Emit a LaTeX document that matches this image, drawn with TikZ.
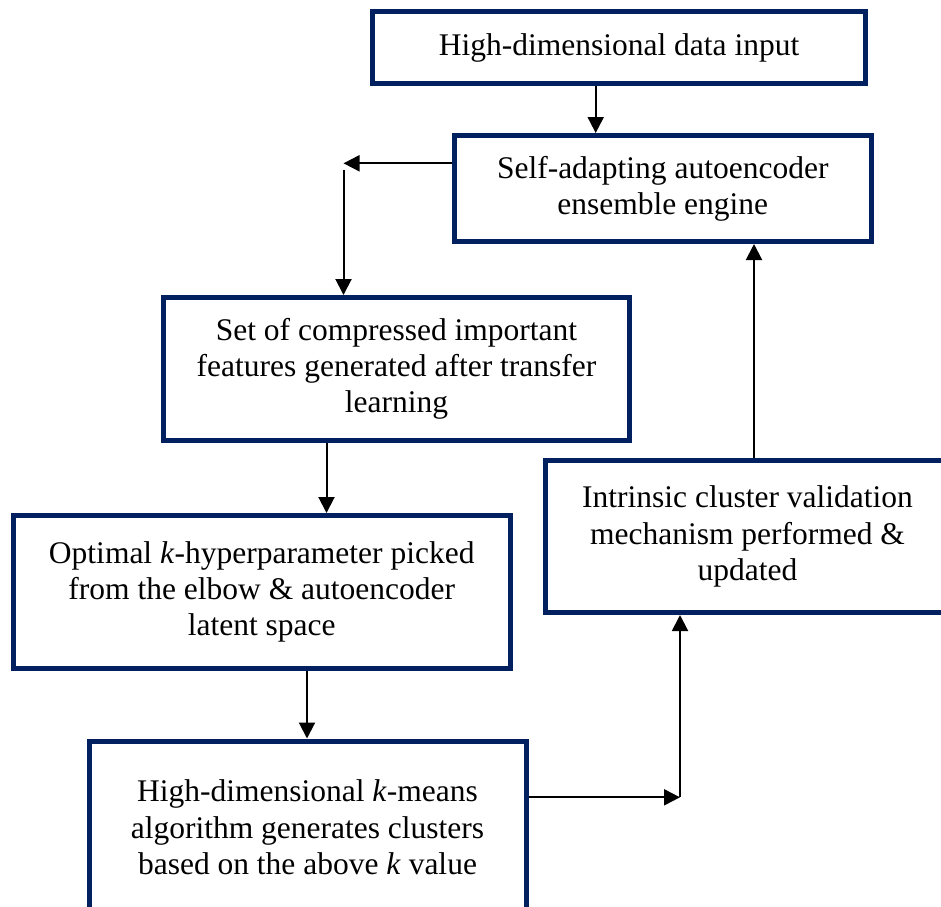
\documentclass[tikz,border=0pt]{standalone}
\usepackage{fontspec}
\setmainfont{Liberation Serif}
\usetikzlibrary{arrows.meta}
\definecolor{navy}{RGB}{0,32,96}
\begin{document}
\begin{tikzpicture}[x=1pt,y=-1pt,
  stepbox/.style={draw=navy, line width=5pt, fill=white, align=center,
    inner sep=0pt, font=\fontsize{31.5}{36.2}\selectfont},
  arr/.style={draw=black, line width=2pt, -{Triangle[length=16pt,width=16pt]}}]
\clip (0,0) rectangle (941,906);

% process boxes
\node[stepbox, minimum width=492.5pt, minimum height=72pt] (input) at (619,47.5)
  {High-dimensional data input};
\node[stepbox, minimum width=416.5pt, minimum height=106pt] (engine) at (662.75,188.5)
  {Self-adapting autoencoder\\ensemble engine};
\node[stepbox, minimum width=466pt, minimum height=142.5pt] (features) at (396.5,368.75)
  {Set of compressed important\\features generated after transfer\\learning};
\node[stepbox, minimum width=497.5pt, minimum height=152.5pt] (optk) at (261.75,591.75)
  {Optimal \textit{k}-hyperparameter picked\\from the elbow \& autoencoder\\latent space};
\node[stepbox, minimum width=437pt, minimum height=172.5pt] (kmeans) at (307.5,827.25)
  {High-dimensional \textit{k}-means\\algorithm generates clusters\\based on the above \textit{k} value};
\node[stepbox, minimum width=405pt, minimum height=152pt] (validation) at (747.5,536.5)
  {Intrinsic cluster validation\\mechanism performed \&\\updated};

% helper points for the connector routes
\coordinate (colIn) at (595.7,0);
\coordinate (rowFb) at (0,163.3);
\coordinate (fbEnd) at (343.5,163.3);
\coordinate (fbTop) at (343.5,170);
\coordinate (colC) at (326.5,0);
\coordinate (colD) at (307,0);
\coordinate (rowB) at (0,797.3);
\coordinate (turn) at (680,797.3);
\coordinate (colF) at (754,0);

% connectors
\draw[arr] (input.south -| colIn) -- (engine.north -| colIn);
\draw[arr] (engine.west |- rowFb) -- (fbEnd);
\draw[arr] (fbTop) -- (features.north -| fbTop);
\draw[arr] (features.south -| colC) -- (optk.north -| colC);
\draw[arr] (optk.south -| colD) -- (kmeans.north -| colD);
\draw[arr] (kmeans.east |- rowB) -- (turn);
\draw[arr] (turn) -- (validation.south -| turn);
\draw[arr] (validation.north -| colF) -- (engine.south -| colF);
\end{tikzpicture}
\end{document}
